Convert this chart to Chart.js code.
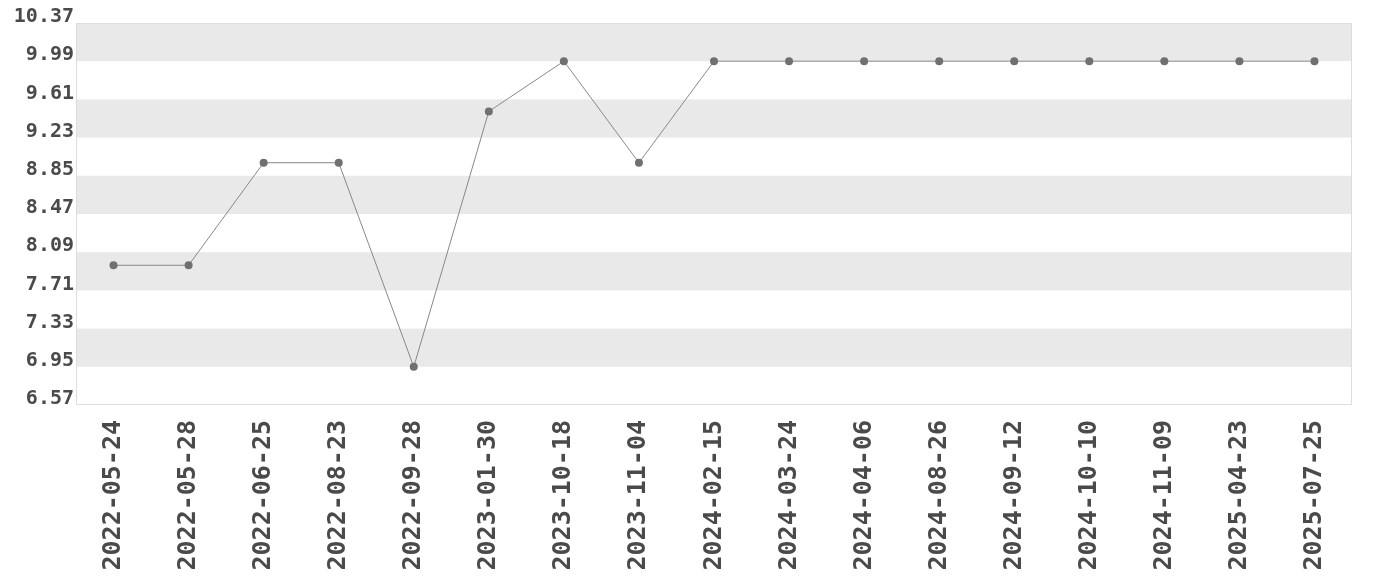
<!DOCTYPE html>
<html><head><meta charset="utf-8">
<script src="https://cdn.jsdelivr.net/npm/chart.js@4/dist/chart.umd.min.js"></script>
<style>html,body{margin:0;padding:0;background:#fff}#wrap{width:1380px;height:580px}</style>
</head><body><div id="wrap"><canvas id="c" width="1380" height="580"></canvas></div>
<script>
const categories = ["2022-05-24","2022-05-28","2022-06-25","2022-08-23","2022-09-28","2023-01-30","2023-10-18","2023-11-04","2024-02-15","2024-03-24","2024-04-06","2024-08-26","2024-09-12","2024-10-10","2024-11-09","2025-04-23","2025-07-25"];
const values = [7.96,7.96,8.98,8.98,6.95,9.49,9.99,8.98,9.99,9.99,9.99,9.99,9.99,9.99,9.99,9.99,9.99];
const yMin = 6.57, yMax = 10.37, yStep = 0.38;

const bands = {
  id: 'bands',
  beforeDraw(chart) {
    const {ctx, chartArea: a, scales: {y}} = chart;
    const ticks = y.ticks;
    ctx.save();
    for (let i = ticks.length - 1; i > 0; i--) {
      const idx = ticks.length - 1 - i;
      if (idx % 2 === 0) {
        const t = y.getPixelForValue(ticks[i].value);
        const b = y.getPixelForValue(ticks[i-1].value);
        ctx.fillStyle = '#e9e9e9';
        ctx.fillRect(a.left, t, a.right - a.left, b - t);
      }
    }
    ctx.strokeStyle = '#dddddd';
    ctx.lineWidth = 1;
    ctx.strokeRect(a.left + 0.5, a.top + 0.5, a.right - a.left - 1, a.bottom - a.top - 1);
    ctx.restore();
  }
};

new Chart(document.getElementById('c'), {
  type: 'line',
  data: { labels: categories, datasets: [{
    data: values, borderColor: '#888888', borderWidth: 1,
    pointBackgroundColor: '#707070', pointBorderColor: '#707070', pointRadius: 4, pointBorderWidth: 0,
    tension: 0, fill: false
  }]},
  options: {
    responsive: false, animation: false,
    layout: { padding: { top: 23, right: 28, left: 10, bottom: 0 } },
    plugins: { legend: { display: false }, tooltip: { enabled: false } },
    scales: {
      x: { offset: true, grid: { display: false, drawTicks: false, tickLength: 0 }, border: { display: false },
        afterFit(s) { s.height = 175; },
        ticks: { minRotation: 90, maxRotation: 90, autoSkip: false, color: '#4a4a4a', padding: 15,
          font: { family: 'DejaVu Sans Mono', weight: 'bold', size: 25 } } },
      y: { min: yMin, max: yMax, grid: { display: false, drawTicks: false, tickLength: 0 }, border: { display: false },
        afterFit(s) { s.width = 66; },
        afterBuildTicks(s) { const t = []; for (let i = 0; i <= 10; i++) t.push({ value: +(yMin + i * yStep).toFixed(2) }); s.ticks = t; },
        ticks: { color: '#4a4a4a', padding: 2, labelOffset: -6,
          callback: (v) => Number(v).toFixed(2),
          font: { family: 'DejaVu Sans Mono', weight: 'bold', size: 20 } } }
    }
  },
  plugins: [bands]
});
</script></body></html>
